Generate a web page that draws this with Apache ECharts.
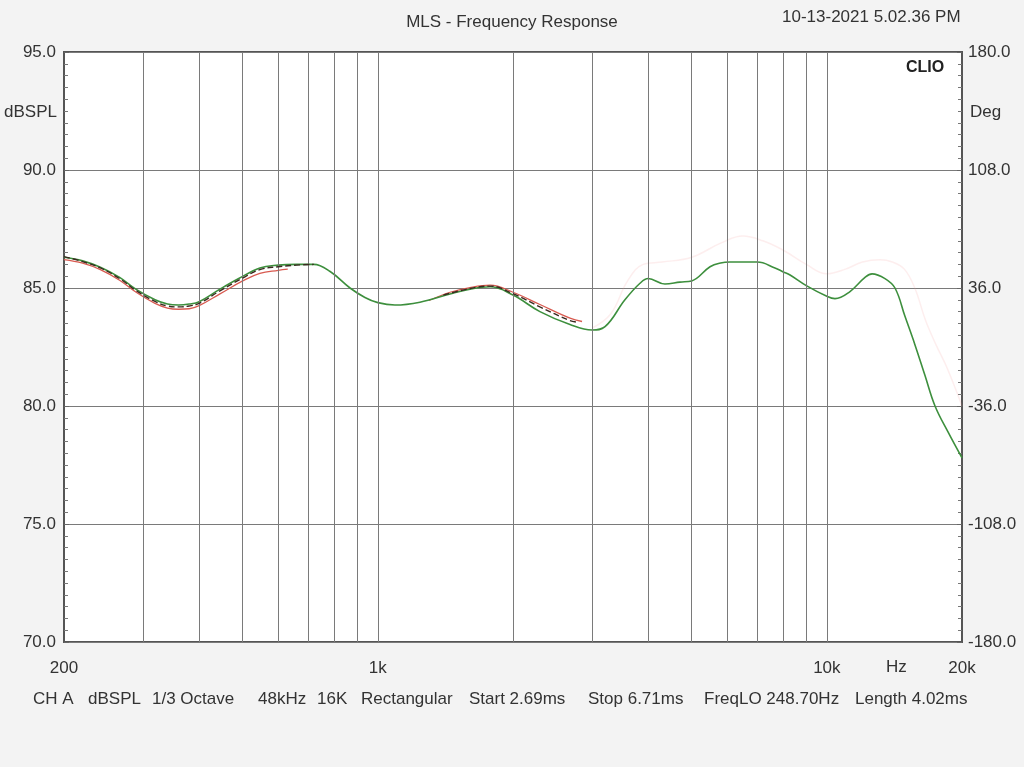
<!DOCTYPE html>
<html><head><meta charset="utf-8">
<script src="https://cdn.jsdelivr.net/npm/echarts@6/dist/echarts.min.js"></script>
<style>html,body{margin:0;padding:0;background:#f3f3f3}#c{width:1024px;height:767px}</style>
</head><body><div id="c"></div>
<script>
// ---- data ----
const greenFreq = [200,220,241,266,289,319,340,360,380,400,445,490,546,600,660,720,783,867,936,1000,1092,1241,1448,1604,1778,2000,2296,2679,3000,3206,3551,3836,4000,4360,4707,5000,5494,5800,6086,7000,7664,8000,8280,9000,10000,10427,11260,12162,12608,13474,14184,14928,15710,16537,17415,18614,20000];
const greenDb   = [86.3,86.15,85.88,85.45,84.95,84.5,84.32,84.28,84.32,84.42,84.95,85.4,85.85,85.97,86.0,86.0,85.7,85.0,84.6,84.38,84.28,84.4,84.75,84.95,85.05,84.7,84.0,83.45,83.22,83.36,84.5,85.2,85.4,85.17,85.25,85.3,85.9,86.06,86.1,86.1,85.85,85.68,85.55,85.1,84.65,84.55,84.85,85.45,85.6,85.4,85.0,83.8,82.6,81.3,80.0,78.9,77.8];

const ghostFreq = [3000,3300,3600,3900,4300,5000,5800,6500,7200,8000,9000,10000,11000,12000,13140,14000,14880,15700,16610,17500,18540,20000];
const ghostDb   = [83.3,83.9,85.3,86.0,86.1,86.3,86.9,87.2,87.0,86.6,86.0,85.6,85.8,86.1,86.2,86.1,85.8,85.0,83.6,82.6,81.6,80.0];

const redAFreq = [200,220,241,266,289,319,340,360,380,400,445,500,546,600,630];
const redADb   = [86.2,86.05,85.78,85.33,84.83,84.35,84.15,84.1,84.12,84.25,84.75,85.3,85.62,85.75,85.8];
const redBFreq = [1300,1448,1604,1778,2000,2296,2679,2850];
const redBDb   = [84.47,84.82,85.02,85.12,84.82,84.3,83.72,83.58];

const darkAFreq = [200,220,241,266,289,319,340,360,380,400,445,500,546,600,660,720];
const darkADb   = [86.33,86.12,85.85,85.4,84.9,84.43,84.24,84.2,84.24,84.35,84.88,85.42,85.78,85.9,85.97,86.0];
const darkBFreq = [1400,1604,1778,2000,2296,2679,2780];
const darkBDb   = [84.7,84.98,85.08,84.76,84.2,83.62,83.55];

const gridFreqs = [300,400,500,600,700,800,900,1000,2000,3000,4000,5000,6000,7000,8000,9000,10000];
const xTickLabels = {200:'200',1000:'1k',10000:'10k',20000:'20k'};
const degLabels = ['-180.0','-108.0','-36.0','36.0','108.0','180.0'];
const footerItems = [['CH A',33],['dBSPL',88],['1/3 Octave',152],['48kHz',258],['16K',317],['Rectangular',361],['Start 2.69ms',469],['Stop 6.71ms',588],['FreqLO 248.70Hz',704],['Length 4.02ms',855]];

const pair = (f, d) => f.map((v, i) => [v, d[i]]);
const FONT = 'Liberation Sans, Arial, sans-serif';
const txt = '#333';

const chart = echarts.init(document.getElementById('c'), null, {renderer: 'canvas'});
const graphics = [
  {type:'text', left: 782, top: 9, style:{text:'10-13-2021 5.02.36 PM', font:'17px ' + FONT, fill: txt}},
  {type:'text', left: 906, top: 60, style:{text:'CLIO', font:'bold 16px ' + FONT, fill: '#222'}},
  {type:'text', left: 4, top: 104, style:{text:'dBSPL', font:'17px ' + FONT, fill: txt}},
  {type:'text', left: 970, top: 104, style:{text:'Deg', font:'17px ' + FONT, fill: txt}},
  {type:'text', left: 886, top: 659, style:{text:'Hz', font:'17px ' + FONT, fill: txt}}
];
footerItems.forEach(([t, x]) => graphics.push({type:'text', left: x, top: 691, style:{text:t, font:'17px ' + FONT, fill: txt}}));

chart.setOption({
  backgroundColor: '#f3f3f3',
  animation: false,
  title: {text: 'MLS - Frequency Response', left: 'center', top: 9,
          textStyle: {fontFamily: FONT, fontSize: 17, fontWeight: 'normal', color: txt}},
  grid: {left: 64, right: 62, top: 52, bottom: 125, show: true, backgroundColor: '#ffffff', borderColor: '#555', borderWidth: 2},
  xAxis: {type: 'log', logBase: 10, min: 200, max: 20000,
    axisLine: {show: false}, axisTick: {show: false}, splitLine: {show: false},
    axisLabel: {margin: 18, color: txt, fontFamily: FONT, fontSize: 17, showMinLabel: true, showMaxLabel: true,
      formatter: v => xTickLabels[Math.round(v)] || ''}},
  yAxis: [
    {type: 'value', min: 70, max: 95, interval: 5, position: 'left',
      axisLine: {show: false}, axisTick: {show: true, inside: true, length: 5, lineStyle: {color: '#666'}},
      minorTick: {show: true, splitNumber: 10, length: 4, lineStyle: {color: '#777'}},
      splitLine: {show: true, lineStyle: {color: '#7a7a7a', width: 1}},
      axisLabel: {margin: 8, color: txt, fontFamily: FONT, fontSize: 17, formatter: v => v.toFixed(1)}},
    {type: 'value', min: 0, max: 5, interval: 1, position: 'right',
      axisLine: {show: false}, axisTick: {show: true, inside: true, length: 5, lineStyle: {color: '#666'}},
      minorTick: {show: true, splitNumber: 10, length: 4, lineStyle: {color: '#777'}},
      splitLine: {show: false},
      axisLabel: {margin: 6, color: txt, fontFamily: FONT, fontSize: 17, formatter: v => degLabels[Math.round(v)]}}
  ],
  graphic: graphics,
  series: [
    {name: 'ghost', type: 'line', data: pair(ghostFreq, ghostDb), smooth: 0.4, showSymbol: false, silent: true,
      lineStyle: {color: 'rgba(240,150,150,0.16)', width: 1.5}, z: 2,
      markLine: {silent: true, symbol: 'none', animation: false, label: {show: false},
        lineStyle: {color: '#7a7a7a', width: 1, type: 'solid'},
        data: gridFreqs.map(f => ({xAxis: f}))}},
    {name: 'redA', type: 'line', data: pair(redAFreq, redADb), smooth: 0.4, showSymbol: false, silent: true,
      lineStyle: {color: '#d85a50', width: 1.3}, z: 3},
    {name: 'redB', type: 'line', data: pair(redBFreq, redBDb), smooth: 0.4, showSymbol: false, silent: true,
      lineStyle: {color: '#d85a50', width: 1.3}, z: 3},
    {name: 'green', type: 'line', data: pair(greenFreq, greenDb), smooth: 0.4, showSymbol: false, silent: true,
      lineStyle: {color: '#3d8f3d', width: 1.6}, z: 4},
    {name: 'darkA', type: 'line', data: pair(darkAFreq, darkADb), smooth: 0.4, showSymbol: false, silent: true,
      lineStyle: {color: '#3a2a20', width: 1.4, type: [6, 3]}, z: 5},
    {name: 'darkB', type: 'line', data: pair(darkBFreq, darkBDb), smooth: 0.4, showSymbol: false, silent: true,
      lineStyle: {color: '#3a2a20', width: 1.4, type: [6, 3]}, z: 5}
  ]
});
</script></body></html>
